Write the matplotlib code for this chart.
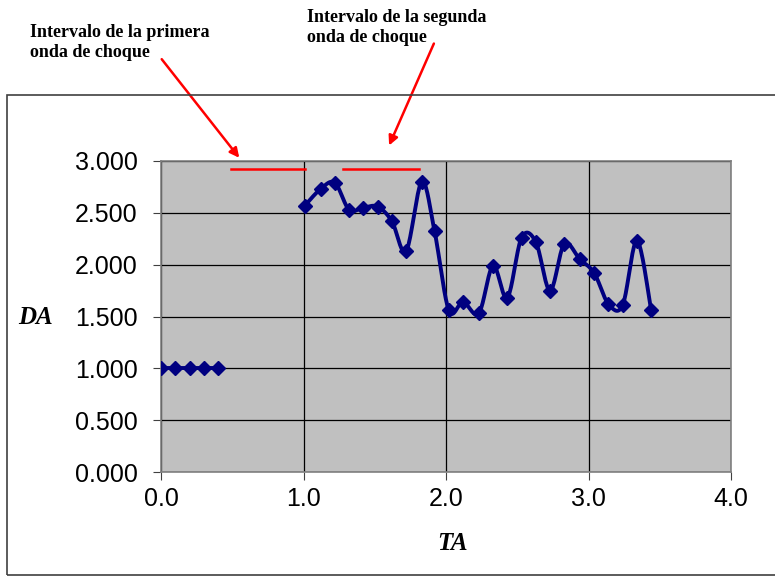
import numpy as np
import matplotlib
matplotlib.use("Agg")
import matplotlib.pyplot as plt
from matplotlib.ticker import FormatStrFormatter

# %% Data
ta_start = [0.0, 0.1, 0.2, 0.3, 0.4]
da_start = [1.0, 1.0, 1.0, 1.0, 1.0]

ta_main = [1.01, 1.12, 1.22, 1.32, 1.42, 1.52, 1.62, 1.72, 1.83, 1.92,
           2.02, 2.12, 2.23, 2.33, 2.43, 2.53, 2.63, 2.73, 2.83, 2.94,
           3.04, 3.14, 3.24, 3.34, 3.44]
da_main = [2.57, 2.73, 2.79, 2.53, 2.55, 2.56, 2.42, 2.13, 2.80, 2.32,
           1.56, 1.64, 1.53, 1.99, 1.68, 2.26, 2.22, 1.75, 2.20, 2.05,
           1.92, 1.62, 1.61, 2.23, 1.56]

# shock wave intervals (TA start, TA end) drawn as red bars
interval_1 = [0.49, 1.01]
interval_2 = [1.28, 1.81]
interval_level = 2.92

x_ticks = [0.0, 1.0, 2.0, 3.0, 4.0]
y_ticks = [0.0, 0.5, 1.0, 1.5, 2.0, 2.5, 3.0]

navy = '#000080'


def smooth(xs, ys, n=20):
    # Excel-like smoothed line (bezier through the points)
    p = np.column_stack([xs, ys])
    out = [p[0]]
    for i in range(len(p) - 1):
        p0 = p[i - 1] if i > 0 else p[i]
        p3 = p[i + 2] if i + 2 < len(p) else p[i + 1]
        c1 = p[i] + (p[i + 1] - p0) / 6
        c2 = p[i + 1] - (p3 - p[i]) / 6
        t = np.linspace(0, 1, n)[1:, None]
        seg = ((1 - t) ** 3 * p[i] + 3 * (1 - t) ** 2 * t * c1
               + 3 * (1 - t) * t ** 2 * c2 + t ** 3 * p[i + 1])
        out.extend(seg)
    out = np.array(out)
    return out[:, 0], out[:, 1]


# %% Figure
fig = plt.figure(figsize=(7.75, 5.81), dpi=100)
ax = fig.add_axes([161 / 775, 1 - 472 / 581, 570 / 775, 311 / 581])
ax.set_facecolor('#c0c0c0')

# outer chart border
fig.patches.append(plt.Rectangle((7 / 775, 6 / 581), 1.1, 480 / 581,
                                 transform=fig.transFigure, fill=False,
                                 edgecolor='#404040', linewidth=1.2))

for xs, ys in [(ta_start, da_start), (ta_main, da_main)]:
    sx, sy = smooth(xs, ys)
    ax.plot(sx, sy, color=navy, linewidth=2.8, zorder=3)
    ax.plot(xs, ys, linestyle='none', marker='D', markersize=7.5,
            color=navy, zorder=4)

ax.plot(interval_1, [interval_level] * 2, color='red', linewidth=1.8, zorder=5)
ax.plot(interval_2, [interval_level] * 2, color='red', linewidth=1.8, zorder=5)

ax.set_xlim(0, 4)
ax.set_ylim(0, 3)
ax.set_xticks(x_ticks)
ax.set_yticks(y_ticks)
ax.xaxis.set_major_formatter(FormatStrFormatter('%.1f'))
ax.yaxis.set_major_formatter(FormatStrFormatter('%.3f'))
ax.grid(True, color='black', linewidth=0.9)
ax.set_axisbelow(True)
ax.tick_params(labelsize=18, length=6, color='#404040',
               labelfontfamily='Liberation Sans')
ax.tick_params(axis='y', pad=11)
ax.tick_params(axis='x', pad=5)
for s in ax.spines.values():
    s.set_color('#808080')
    s.set_linewidth(1.2)

fig.text(35 / 775, 1 - 317 / 581, 'DA', fontsize=18, family='Liberation Serif',
         fontweight='bold', style='italic', ha='center', va='center')
fig.text(452 / 775, 1 - 543 / 581, 'TA', fontsize=18, family='Liberation Serif',
         fontweight='bold', style='italic', ha='center', va='center')

fig.text(30 / 775, 1 - 24 / 581, 'Intervalo de la primera\nonda de choque',
         fontsize=13, family='Liberation Serif', fontweight='bold',
         ha='left', va='top', linespacing=1.25)
fig.text(307 / 775, 1 - 9 / 581, 'Intervalo de la segunda\nonda de choque',
         fontsize=13, family='Liberation Serif', fontweight='bold',
         ha='left', va='top', linespacing=1.25)

arrow = dict(arrowstyle='-|>', color='red', lw=1.8, mutation_scale=14)
ax.annotate('', xy=(241, 581 - 160), xytext=(160, 581 - 57),
            xycoords='figure pixels', textcoords='figure pixels',
            arrowprops=arrow, annotation_clip=False)
ax.annotate('', xy=(388, 581 - 148), xytext=(435, 581 - 41),
            xycoords='figure pixels', textcoords='figure pixels',
            arrowprops=arrow, annotation_clip=False)

fig.savefig('out.png', dpi=100)
